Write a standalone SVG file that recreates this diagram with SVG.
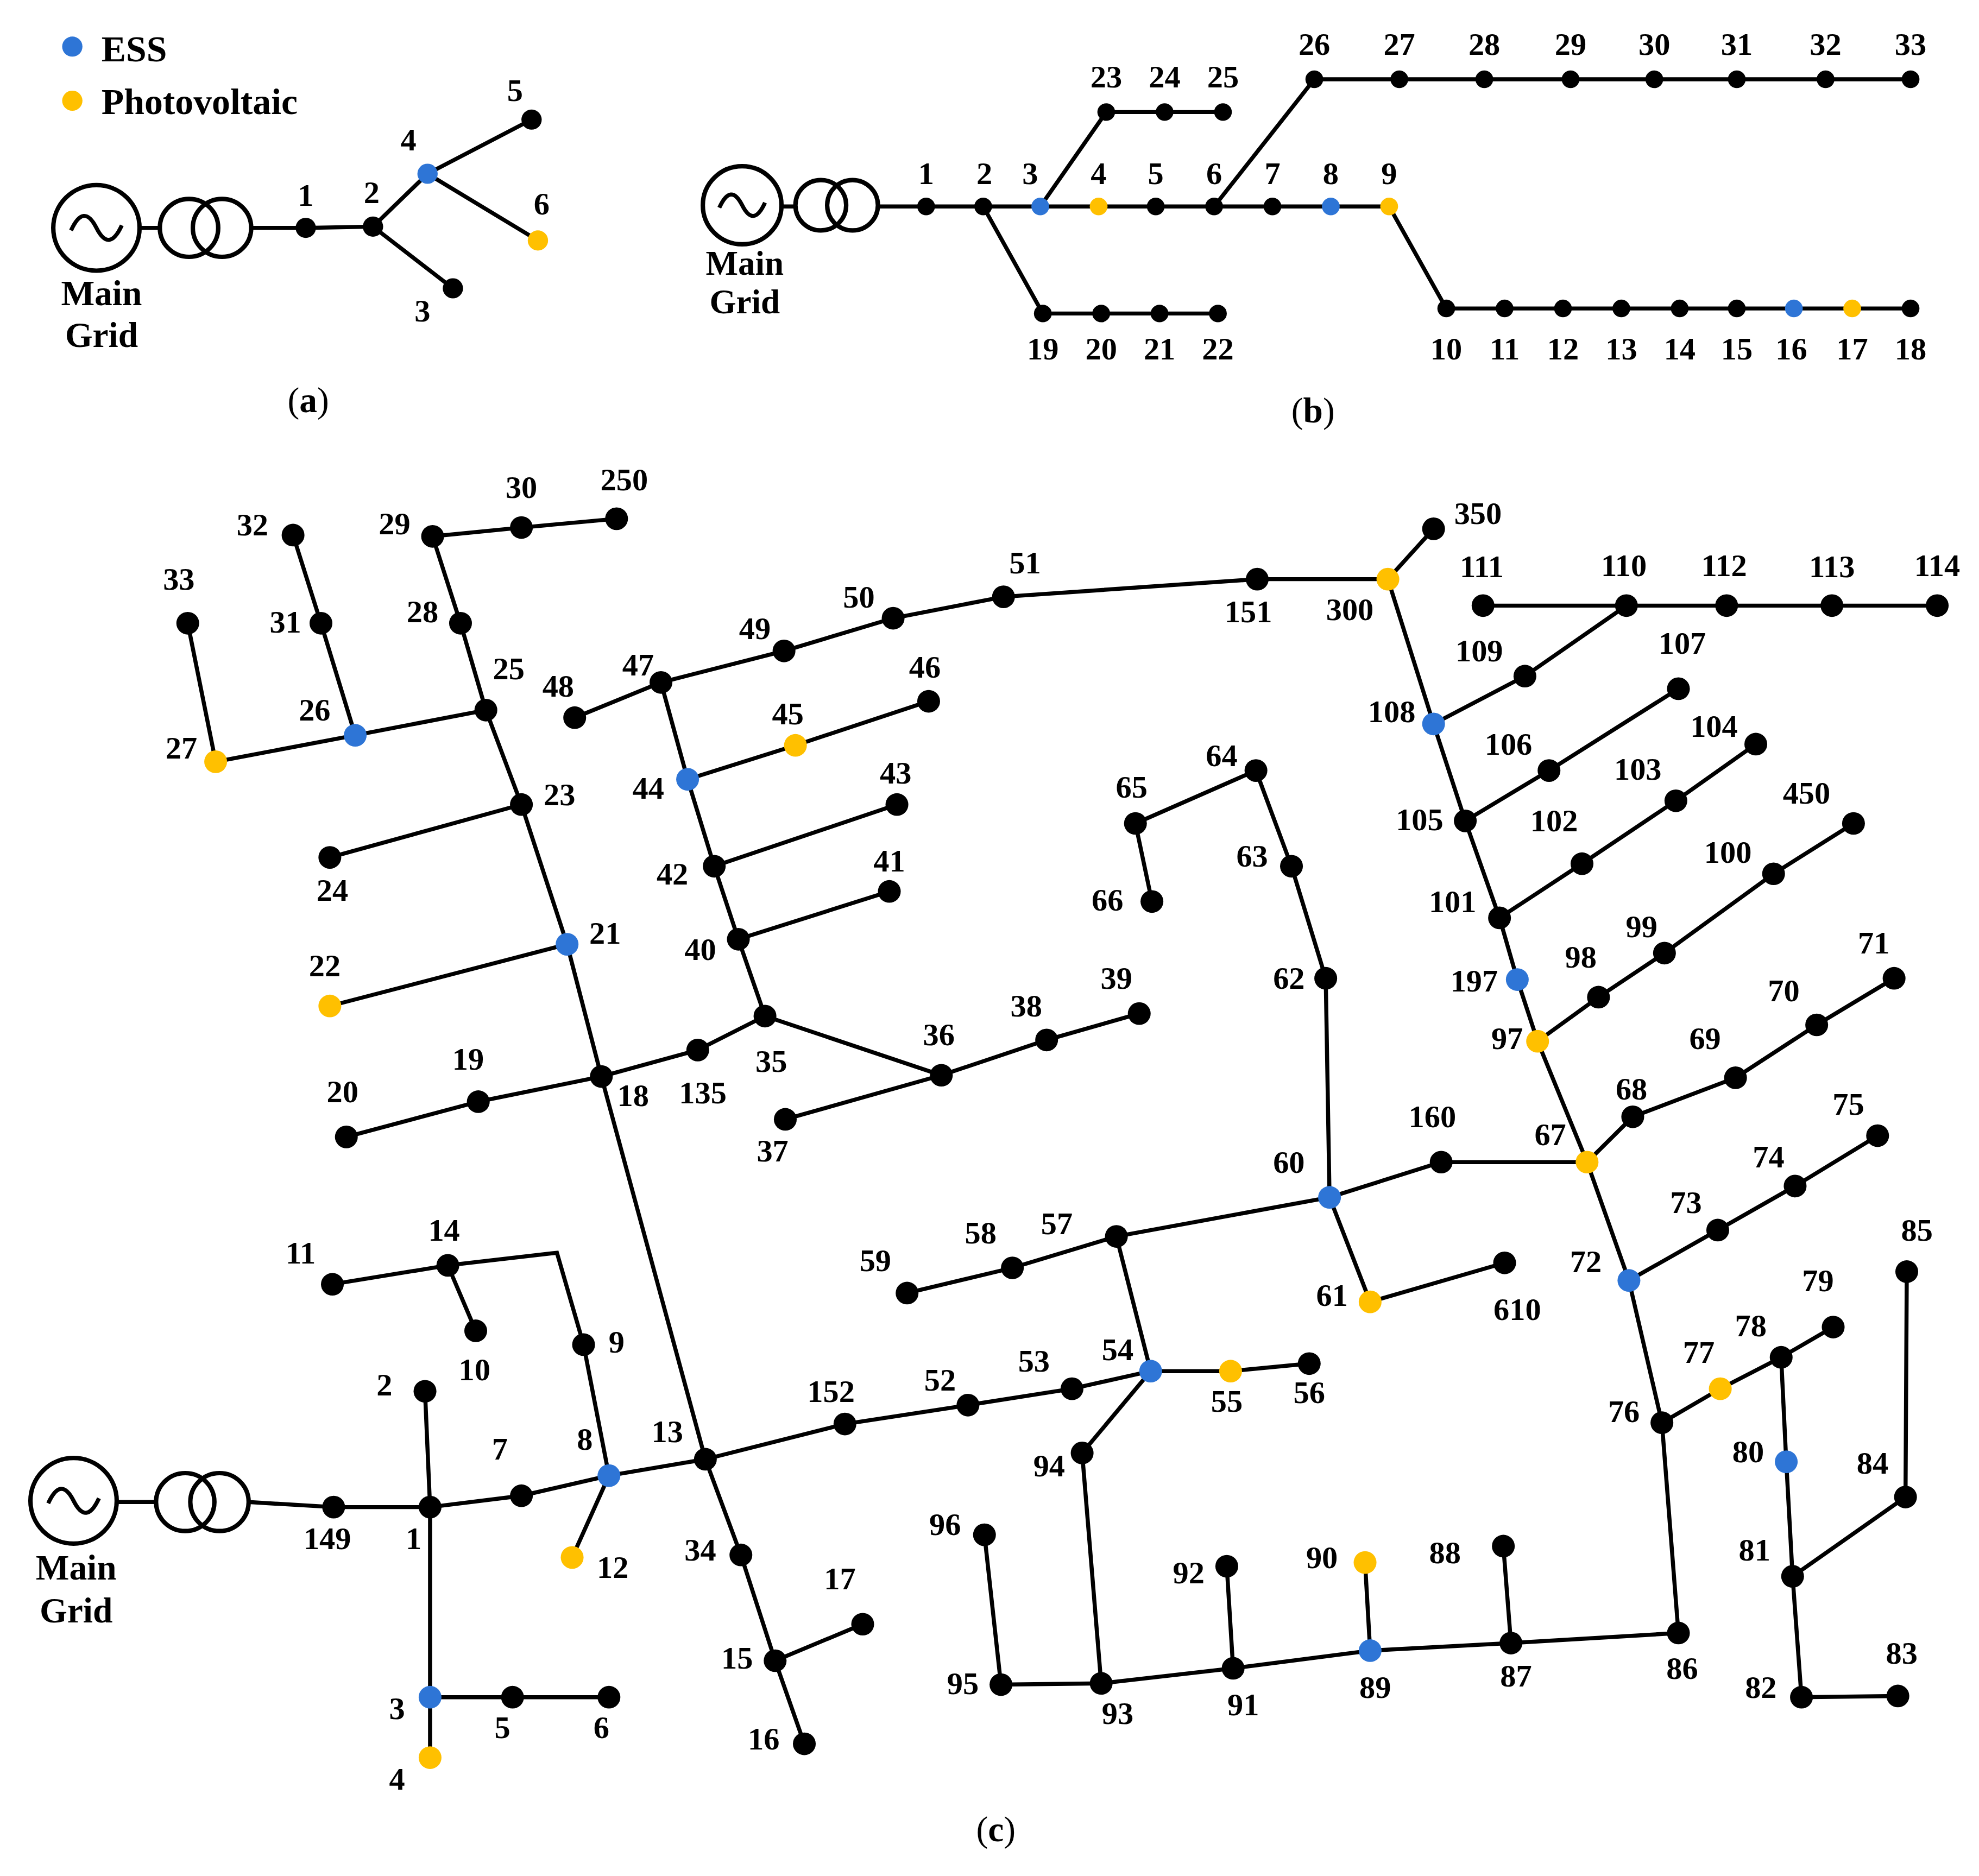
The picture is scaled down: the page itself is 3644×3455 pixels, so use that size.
<svg xmlns="http://www.w3.org/2000/svg" width="3644" height="3455" viewBox="0 0 3644 3455">
<style>
.e{stroke:#000;stroke-width:3.2;fill:none}
.n{fill:#000}.b{fill:#2E75D6}.y{fill:#FFC000}
text{font-family:"Liberation Serif",serif;font-weight:bold;font-size:25px;text-anchor:middle;dominant-baseline:central;fill:#000}
.lg{text-anchor:start;font-size:29px}
.cap{font-weight:normal;font-size:28px}
.g{fill:#fff;stroke:#000;stroke-width:3.5}
</style>
<rect width="3644" height="3455" fill="#fff"/>
<g transform="scale(2.336,2.3188)">
<!-- legend -->
<g id="legend"><circle cx="57" cy="37" r="8" class="b"/><text x="80" y="39" class="lg">ESS</text><circle cx="57" cy="80" r="8" class="y"/><text x="80" y="81" class="lg">Photovoltaic</text></g>
<!-- (a) -->
<g id="a-grid"><circle cx="76" cy="181" r="34" class="g"/><path d="M56 183 q10 -22 20 -2 q10 20 20 -2" class="e"/><circle cx="149" cy="181" r="23" class="g" style="fill:none"/><circle cx="175" cy="181" r="23" class="g" style="fill:none"/><text x="80" y="233" style="font-size:28px">Main</text><text x="80" y="266" style="font-size:28px">Grid</text></g>
<g id="a-edges" class="e"><path d="M110 181H126M198 181H241L294 180L337 138L419 95M337 138L424 191M294 180L357 229"/></g>
<g id="a-n1"><circle cx="241" cy="181" r="8" class="n"/><text x="241" y="155">1</text></g>
<g id="a-n2"><circle cx="294" cy="180" r="8" class="n"/><text x="293" y="153">2</text></g>
<g id="a-n4"><circle cx="337" cy="138" r="8" class="b"/><text x="322" y="111">4</text></g>
<g id="a-n5"><circle cx="419" cy="95" r="8" class="n"/><text x="406" y="72">5</text></g>
<g id="a-n6"><circle cx="424" cy="191" r="8" class="y"/><text x="427" y="162">6</text></g>
<g id="a-n3"><circle cx="357" cy="229" r="8" class="n"/><text x="333" y="247">3</text></g>
<text x="243" y="318" class="cap">(<tspan font-weight="bold">a</tspan>)</text>
<!-- (b) -->
<g id="b-grid"><circle cx="585" cy="163" r="31" class="g"/><path d="M567 165 q9 -20 18 -2 q9 18 18 -2" class="e"/><circle cx="647" cy="163" r="20" class="g" style="fill:none"/><circle cx="672" cy="163" r="20" class="g" style="fill:none"/><text x="587" y="209" style="font-size:27px">Main</text><text x="587" y="240" style="font-size:27px">Grid</text></g>
<g id="b-edges" class="e"><path d="M616 164H627M692 164H1095L1140 245H1506M820 164L872 89H964M957 164L1036 63H1506M775 164L822 249H960"/></g>
<g id="b-nodes">
<circle cx="730" cy="164" r="7" class="n"/><circle cx="775" cy="164" r="7" class="n"/><circle cx="820" cy="164" r="7" class="b"/><circle cx="866" cy="164" r="7" class="y"/><circle cx="911" cy="164" r="7" class="n"/><circle cx="957" cy="164" r="7" class="n"/><circle cx="1003" cy="164" r="7" class="n"/><circle cx="1049" cy="164" r="7" class="b"/><circle cx="1095" cy="164" r="7" class="y"/>
<circle cx="872" cy="89" r="7" class="n"/><circle cx="918" cy="89" r="7" class="n"/><circle cx="964" cy="89" r="7" class="n"/>
<circle cx="1036" cy="63" r="7" class="n"/><circle cx="1103" cy="63" r="7" class="n"/><circle cx="1170" cy="63" r="7" class="n"/><circle cx="1238" cy="63" r="7" class="n"/><circle cx="1304" cy="63" r="7" class="n"/><circle cx="1369" cy="63" r="7" class="n"/><circle cx="1439" cy="63" r="7" class="n"/><circle cx="1506" cy="63" r="7" class="n"/>
<circle cx="822" cy="249" r="7" class="n"/><circle cx="868" cy="249" r="7" class="n"/><circle cx="914" cy="249" r="7" class="n"/><circle cx="960" cy="249" r="7" class="n"/>
<circle cx="1140" cy="245" r="7" class="n"/><circle cx="1186" cy="245" r="7" class="n"/><circle cx="1232" cy="245" r="7" class="n"/><circle cx="1278" cy="245" r="7" class="n"/><circle cx="1324" cy="245" r="7" class="n"/><circle cx="1369" cy="245" r="7" class="n"/><circle cx="1414" cy="245" r="7" class="b"/><circle cx="1460" cy="245" r="7" class="y"/><circle cx="1506" cy="245" r="7" class="n"/>
</g>
<g id="b-labels">
<text x="730" y="138">1</text><text x="776" y="138">2</text><text x="812" y="138">3</text><text x="866" y="138">4</text><text x="911" y="138">5</text><text x="957" y="138">6</text><text x="1003" y="138">7</text><text x="1049" y="138">8</text><text x="1095" y="138">9</text>
<text x="872" y="61">23</text><text x="918" y="61">24</text><text x="964" y="61">25</text>
<text x="1036" y="35">26</text><text x="1103" y="35">27</text><text x="1170" y="35">28</text><text x="1238" y="35">29</text><text x="1304" y="35">30</text><text x="1369" y="35">31</text><text x="1439" y="35">32</text><text x="1506" y="35">33</text>
<text x="822" y="277">19</text><text x="868" y="277">20</text><text x="914" y="277">21</text><text x="960" y="277">22</text>
<text x="1140" y="277">10</text><text x="1186" y="277">11</text><text x="1232" y="277">12</text><text x="1278" y="277">13</text><text x="1324" y="277">14</text><text x="1369" y="277">15</text><text x="1412" y="277">16</text><text x="1460" y="277">17</text><text x="1506" y="277">18</text>
</g>
<text x="1035" y="326" class="cap">(<tspan font-weight="bold">b</tspan>)</text>
<!-- (c) -->
<g id="c-grid"><circle cx="58" cy="1192" r="34" class="g"/><path d="M38 1194 q10 -22 20 -2 q10 20 20 -2" class="e"/><circle cx="146" cy="1193" r="23" class="g" style="fill:none"/><circle cx="173" cy="1193" r="23" class="g" style="fill:none"/><text x="60" y="1245" style="font-size:28px">Main</text><text x="60" y="1279" style="font-size:28px">Grid</text></g>
<g id="c-edges" class="e"><path d="
M92 1193H123M196 1193L263 1197L339 1197L335 1105M339 1197L339 1396M339 1348H480M339 1197L411 1188L480 1172L451 1237M480 1172L460 1068L439 995L353 1005L262 1020M353 1005L375 1057
M480 1172L556 1159L584 1235L611 1319L680 1290M611 1319L634 1385
M556 1159L666 1131L763 1116L845 1103L907 1089L970 1089L1032 1083M907 1089L853 1154L868 1337L789 1338L776 1219M868 1337L972 1325L967 1244M972 1325L1080 1311L1076 1241M1080 1311L1191 1305L1185 1228M1191 1305L1323 1297L1310 1130L1356 1103L1404 1078L1445 1054M1404 1078L1408 1161L1413 1252L1420 1348L1496 1347M1413 1252L1502 1189L1503 1010
M1310 1130L1284 1017L1354 977L1415 942L1480 902M1284 1017L1251 923L1287 887L1368 856L1432 814L1493 777M1251 923L1136 923L1048 951L1080 1034L1186 1003M1048 951L1045 777L1018 688L990 612L895 654L908 716M1048 951L880 982L907 1089M880 982L798 1007L715 1027
M1251 923L1212 827L1196 778L1182 729L1155 652L1130 575L1094 460L1130 420M1212 827L1260 792L1312 757L1398 694L1461 654M1182 729L1247 686L1321 636L1384 591M1155 652L1221 612L1323 547M1130 575L1202 537L1282 481M1169 481H1527
M1094 460L991 460L791 474L704 491L618 517L521 542L453 570M521 542L542 619L563 688L582 746L603 807L550 834L474 855M542 619L627 592L732 557M563 688L707 639M582 746L701 708M603 807L742 854L825 826L898 805M742 854L619 889
M556 1159L474 855L447 750L411 639L383 564L363 495L341 426L411 419L486 412M474 855L377 875L273 903M447 750L260 799M411 639L260 681M383 564L280 584L170 605L148 495M280 584L253 495L231 425"/></g>
<g id="c-n149"><circle cx="263" cy="1197" r="9" class="n"/><text x="258" y="1222">149</text></g>
<g id="c-n1"><circle cx="339" cy="1197" r="9" class="n"/><text x="326" y="1222">1</text></g>
<g id="c-n2"><circle cx="335" cy="1105" r="9" class="n"/><text x="303" y="1100">2</text></g>
<g id="c-n3"><circle cx="339" cy="1348" r="9" class="b"/><text x="313" y="1357">3</text></g>
<g id="c-n4"><circle cx="339" cy="1396" r="9" class="y"/><text x="313" y="1413">4</text></g>
<g id="c-n5"><circle cx="404" cy="1348" r="9" class="n"/><text x="396" y="1372">5</text></g>
<g id="c-n6"><circle cx="480" cy="1348" r="9" class="n"/><text x="474" y="1372">6</text></g>
<g id="c-n7"><circle cx="411" cy="1188" r="9" class="n"/><text x="394" y="1151">7</text></g>
<g id="c-n8"><circle cx="480" cy="1172" r="9" class="b"/><text x="461" y="1143">8</text></g>
<g id="c-n12"><circle cx="451" cy="1237" r="9" class="y"/><text x="483" y="1245">12</text></g>
<g id="c-n9"><circle cx="460" cy="1068" r="9" class="n"/><text x="486" y="1066">9</text></g>
<g id="c-n14"><circle cx="353" cy="1005" r="9" class="n"/><text x="350" y="977">14</text></g>
<g id="c-n10"><circle cx="375" cy="1057" r="9" class="n"/><text x="374" y="1088">10</text></g>
<g id="c-n11"><circle cx="262" cy="1020" r="9" class="n"/><text x="237" y="995">11</text></g>
<g id="c-n13"><circle cx="556" cy="1159" r="9" class="n"/><text x="526" y="1137">13</text></g>
<g id="c-n34"><circle cx="584" cy="1235" r="9" class="n"/><text x="552" y="1231">34</text></g>
<g id="c-n15"><circle cx="611" cy="1319" r="9" class="n"/><text x="581" y="1317">15</text></g>
<g id="c-n17"><circle cx="680" cy="1290" r="9" class="n"/><text x="662" y="1254">17</text></g>
<g id="c-n16"><circle cx="634" cy="1385" r="9" class="n"/><text x="602" y="1381">16</text></g>
<g id="c-n152"><circle cx="666" cy="1131" r="9" class="n"/><text x="655" y="1105">152</text></g>
<g id="c-n52"><circle cx="763" cy="1116" r="9" class="n"/><text x="741" y="1096">52</text></g>
<g id="c-n53"><circle cx="845" cy="1103" r="9" class="n"/><text x="815" y="1081">53</text></g>
<g id="c-n54"><circle cx="907" cy="1089" r="9" class="b"/><text x="881" y="1072">54</text></g>
<g id="c-n55"><circle cx="970" cy="1089" r="9" class="y"/><text x="967" y="1113">55</text></g>
<g id="c-n56"><circle cx="1032" cy="1083" r="9" class="n"/><text x="1032" y="1106">56</text></g>
<g id="c-n94"><circle cx="853" cy="1154" r="9" class="n"/><text x="827" y="1164">94</text></g>
<g id="c-n93"><circle cx="868" cy="1337" r="9" class="n"/><text x="881" y="1361">93</text></g>
<g id="c-n95"><circle cx="789" cy="1338" r="9" class="n"/><text x="759" y="1337">95</text></g>
<g id="c-n96"><circle cx="776" cy="1219" r="9" class="n"/><text x="745" y="1211">96</text></g>
<g id="c-n91"><circle cx="972" cy="1325" r="9" class="n"/><text x="980" y="1354">91</text></g>
<g id="c-n92"><circle cx="967" cy="1244" r="9" class="n"/><text x="937" y="1249">92</text></g>
<g id="c-n89"><circle cx="1080" cy="1311" r="9" class="b"/><text x="1084" y="1340">89</text></g>
<g id="c-n90"><circle cx="1076" cy="1241" r="9" class="y"/><text x="1042" y="1237">90</text></g>
<g id="c-n87"><circle cx="1191" cy="1305" r="9" class="n"/><text x="1195" y="1331">87</text></g>
<g id="c-n88"><circle cx="1185" cy="1228" r="9" class="n"/><text x="1139" y="1233">88</text></g>
<g id="c-n86"><circle cx="1323" cy="1297" r="9" class="n"/><text x="1326" y="1325">86</text></g>
<g id="c-n76"><circle cx="1310" cy="1130" r="9" class="n"/><text x="1280" y="1121">76</text></g>
<g id="c-n77"><circle cx="1356" cy="1103" r="9" class="y"/><text x="1339" y="1074">77</text></g>
<g id="c-n78"><circle cx="1404" cy="1078" r="9" class="n"/><text x="1380" y="1053">78</text></g>
<g id="c-n79"><circle cx="1445" cy="1054" r="9" class="n"/><text x="1433" y="1017">79</text></g>
<g id="c-n80"><circle cx="1408" cy="1161" r="9" class="b"/><text x="1378" y="1153">80</text></g>
<g id="c-n81"><circle cx="1413" cy="1252" r="9" class="n"/><text x="1383" y="1231">81</text></g>
<g id="c-n82"><circle cx="1420" cy="1348" r="9" class="n"/><text x="1388" y="1340">82</text></g>
<g id="c-n83"><circle cx="1496" cy="1347" r="9" class="n"/><text x="1499" y="1313">83</text></g>
<g id="c-n84"><circle cx="1502" cy="1189" r="9" class="n"/><text x="1476" y="1162">84</text></g>
<g id="c-n85"><circle cx="1503" cy="1010" r="9" class="n"/><text x="1511" y="977">85</text></g>
<g id="c-n72"><circle cx="1284" cy="1017" r="9" class="b"/><text x="1250" y="1002">72</text></g>
<g id="c-n73"><circle cx="1354" cy="977" r="9" class="n"/><text x="1329" y="955">73</text></g>
<g id="c-n74"><circle cx="1415" cy="942" r="9" class="n"/><text x="1394" y="919">74</text></g>
<g id="c-n75"><circle cx="1480" cy="902" r="9" class="n"/><text x="1457" y="877">75</text></g>
<g id="c-n67"><circle cx="1251" cy="923" r="9" class="y"/><text x="1222" y="901">67</text></g>
<g id="c-n68"><circle cx="1287" cy="887" r="9" class="n"/><text x="1286" y="865">68</text></g>
<g id="c-n69"><circle cx="1368" cy="856" r="9" class="n"/><text x="1344" y="825">69</text></g>
<g id="c-n70"><circle cx="1432" cy="814" r="9" class="n"/><text x="1406" y="787">70</text></g>
<g id="c-n71"><circle cx="1493" cy="777" r="9" class="n"/><text x="1477" y="749">71</text></g>
<g id="c-n160"><circle cx="1136" cy="923" r="9" class="n"/><text x="1129" y="887">160</text></g>
<g id="c-n60"><circle cx="1048" cy="951" r="9" class="b"/><text x="1016" y="923">60</text></g>
<g id="c-n61"><circle cx="1080" cy="1034" r="9" class="y"/><text x="1050" y="1029">61</text></g>
<g id="c-n610"><circle cx="1186" cy="1003" r="9" class="n"/><text x="1196" y="1040">610</text></g>
<g id="c-n62"><circle cx="1045" cy="777" r="9" class="n"/><text x="1016" y="777">62</text></g>
<g id="c-n63"><circle cx="1018" cy="688" r="9" class="n"/><text x="987" y="680">63</text></g>
<g id="c-n64"><circle cx="990" cy="612" r="9" class="n"/><text x="963" y="600">64</text></g>
<g id="c-n65"><circle cx="895" cy="654" r="9" class="n"/><text x="892" y="625">65</text></g>
<g id="c-n66"><circle cx="908" cy="716" r="9" class="n"/><text x="873" y="715">66</text></g>
<g id="c-n57"><circle cx="880" cy="982" r="9" class="n"/><text x="833" y="972">57</text></g>
<g id="c-n58"><circle cx="798" cy="1007" r="9" class="n"/><text x="773" y="979">58</text></g>
<g id="c-n59"><circle cx="715" cy="1027" r="9" class="n"/><text x="690" y="1001">59</text></g>
<g id="c-n97"><circle cx="1212" cy="827" r="9" class="y"/><text x="1188" y="825">97</text></g>
<g id="c-n197"><circle cx="1196" cy="778" r="9" class="b"/><text x="1162" y="779">197</text></g>
<g id="c-n98"><circle cx="1260" cy="792" r="9" class="n"/><text x="1246" y="760">98</text></g>
<g id="c-n99"><circle cx="1312" cy="757" r="9" class="n"/><text x="1294" y="736">99</text></g>
<g id="c-n100"><circle cx="1398" cy="694" r="9" class="n"/><text x="1362" y="677">100</text></g>
<g id="c-n450"><circle cx="1461" cy="654" r="9" class="n"/><text x="1424" y="630">450</text></g>
<g id="c-n101"><circle cx="1182" cy="729" r="9" class="n"/><text x="1145" y="716">101</text></g>
<g id="c-n102"><circle cx="1247" cy="686" r="9" class="n"/><text x="1225" y="652">102</text></g>
<g id="c-n103"><circle cx="1321" cy="636" r="9" class="n"/><text x="1291" y="611">103</text></g>
<g id="c-n104"><circle cx="1384" cy="591" r="9" class="n"/><text x="1351" y="577">104</text></g>
<g id="c-n105"><circle cx="1155" cy="652" r="9" class="n"/><text x="1119" y="651">105</text></g>
<g id="c-n106"><circle cx="1221" cy="612" r="9" class="n"/><text x="1189" y="591">106</text></g>
<g id="c-n107"><circle cx="1323" cy="547" r="9" class="n"/><text x="1326" y="511">107</text></g>
<g id="c-n108"><circle cx="1130" cy="575" r="9" class="b"/><text x="1097" y="565">108</text></g>
<g id="c-n109"><circle cx="1202" cy="537" r="9" class="n"/><text x="1166" y="517">109</text></g>
<g id="c-n110"><circle cx="1282" cy="481" r="9" class="n"/><text x="1280" y="449">110</text></g>
<g id="c-n111"><circle cx="1169" cy="481" r="9" class="n"/><text x="1168" y="450">111</text></g>
<g id="c-n112"><circle cx="1361" cy="481" r="9" class="n"/><text x="1359" y="449">112</text></g>
<g id="c-n113"><circle cx="1444" cy="481" r="9" class="n"/><text x="1444" y="450">113</text></g>
<g id="c-n114"><circle cx="1527" cy="481" r="9" class="n"/><text x="1527" y="449">114</text></g>
<g id="c-n300"><circle cx="1094" cy="460" r="9" class="y"/><text x="1064" y="484">300</text></g>
<g id="c-n350"><circle cx="1130" cy="420" r="9" class="n"/><text x="1165" y="408">350</text></g>
<g id="c-n151"><circle cx="991" cy="460" r="9" class="n"/><text x="984" y="486">151</text></g>
<g id="c-n51"><circle cx="791" cy="474" r="9" class="n"/><text x="808" y="447">51</text></g>
<g id="c-n50"><circle cx="704" cy="491" r="9" class="n"/><text x="677" y="474">50</text></g>
<g id="c-n49"><circle cx="618" cy="517" r="9" class="n"/><text x="595" y="499">49</text></g>
<g id="c-n47"><circle cx="521" cy="542" r="9" class="n"/><text x="503" y="528">47</text></g>
<g id="c-n48"><circle cx="453" cy="570" r="9" class="n"/><text x="440" y="545">48</text></g>
<g id="c-n44"><circle cx="542" cy="619" r="9" class="b"/><text x="511" y="626">44</text></g>
<g id="c-n45"><circle cx="627" cy="592" r="9" class="y"/><text x="621" y="567">45</text></g>
<g id="c-n46"><circle cx="732" cy="557" r="9" class="n"/><text x="729" y="530">46</text></g>
<g id="c-n42"><circle cx="563" cy="688" r="9" class="n"/><text x="530" y="694">42</text></g>
<g id="c-n43"><circle cx="707" cy="639" r="9" class="n"/><text x="706" y="614">43</text></g>
<g id="c-n40"><circle cx="582" cy="746" r="9" class="n"/><text x="552" y="754">40</text></g>
<g id="c-n41"><circle cx="701" cy="708" r="9" class="n"/><text x="701" y="684">41</text></g>
<g id="c-n35"><circle cx="603" cy="807" r="9" class="n"/><text x="608" y="843">35</text></g>
<g id="c-n135"><circle cx="550" cy="834" r="9" class="n"/><text x="554" y="868">135</text></g>
<g id="c-n36"><circle cx="742" cy="854" r="9" class="n"/><text x="740" y="822">36</text></g>
<g id="c-n38"><circle cx="825" cy="826" r="9" class="n"/><text x="809" y="799">38</text></g>
<g id="c-n39"><circle cx="898" cy="805" r="9" class="n"/><text x="880" y="777">39</text></g>
<g id="c-n37"><circle cx="619" cy="889" r="9" class="n"/><text x="609" y="914">37</text></g>
<g id="c-n18"><circle cx="474" cy="855" r="9" class="n"/><text x="499" y="870">18</text></g>
<g id="c-n19"><circle cx="377" cy="875" r="9" class="n"/><text x="369" y="841">19</text></g>
<g id="c-n20"><circle cx="273" cy="903" r="9" class="n"/><text x="270" y="867">20</text></g>
<g id="c-n21"><circle cx="447" cy="750" r="9" class="b"/><text x="477" y="741">21</text></g>
<g id="c-n22"><circle cx="260" cy="799" r="9" class="y"/><text x="256" y="767">22</text></g>
<g id="c-n23"><circle cx="411" cy="639" r="9" class="n"/><text x="441" y="631">23</text></g>
<g id="c-n24"><circle cx="260" cy="681" r="9" class="n"/><text x="262" y="707">24</text></g>
<g id="c-n25"><circle cx="383" cy="564" r="9" class="n"/><text x="401" y="531">25</text></g>
<g id="c-n26"><circle cx="280" cy="584" r="9" class="b"/><text x="248" y="564">26</text></g>
<g id="c-n27"><circle cx="170" cy="605" r="9" class="y"/><text x="143" y="594">27</text></g>
<g id="c-n33"><circle cx="148" cy="495" r="9" class="n"/><text x="141" y="460">33</text></g>
<g id="c-n31"><circle cx="253" cy="495" r="9" class="n"/><text x="225" y="494">31</text></g>
<g id="c-n32"><circle cx="231" cy="425" r="9" class="n"/><text x="199" y="417">32</text></g>
<g id="c-n28"><circle cx="363" cy="495" r="9" class="n"/><text x="333" y="486">28</text></g>
<g id="c-n29"><circle cx="341" cy="426" r="9" class="n"/><text x="311" y="416">29</text></g>
<g id="c-n30"><circle cx="411" cy="419" r="9" class="n"/><text x="411" y="387">30</text></g>
<g id="c-n250"><circle cx="486" cy="412" r="9" class="n"/><text x="492" y="381">250</text></g>
<text x="785" y="1453" class="cap">(<tspan font-weight="bold">c</tspan>)</text>
</g>
</svg>
